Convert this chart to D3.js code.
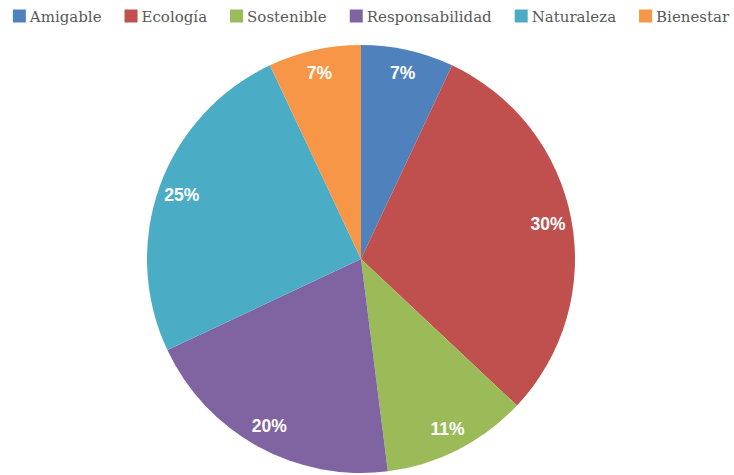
<!DOCTYPE html>
<html><head><meta charset="utf-8">
<script src="https://cdn.jsdelivr.net/npm/d3@7"></script>
<style>body{margin:0;background:#fff;}svg{display:block;}</style>
</head><body>
<svg id="chart" width="734" height="475"></svg>
<script>
const categories = ["Amigable","Ecología","Sostenible","Responsabilidad","Naturaleza","Bienestar"];
const values = [7,30,11,20,25,7];
const labels = ["7%","30%","11%","20%","25%","7%"];
const colors = ["#4F81BD","#C0504D","#9BBB59","#8064A2","#4BACC6","#F79646"];

const svg = d3.select("#chart");
const cx = 361, cy = 259, R = 214;

const data = categories.map((c,i)=>({cat:c, v:values[i], label:labels[i], color:colors[i]}));
const pie = d3.pie().value(d=>d.v).sort(null);
const arc = d3.arc().innerRadius(0).outerRadius(R);
const labelArc = d3.arc().innerRadius(R*0.89).outerRadius(R*0.89);

const g = svg.append("g").attr("transform",`translate(${cx},${cy})`);
const arcs = pie(data);
g.selectAll("path").data(arcs).join("path")
  .attr("d",arc).attr("fill",d=>d.data.color);

g.selectAll("text").data(arcs).join("text")
  .attr("transform",d=>`translate(${labelArc.centroid(d)})`)
  .attr("text-anchor","middle").attr("dy","0.36em")
  .attr("fill","#fff").attr("font-family","Liberation Sans, Arial, sans-serif")
  .attr("font-weight","bold").attr("font-size",17.5)
  .text(d=>d.data.label);

// legend
const lg = svg.append("g");
const items = lg.selectAll("g").data(data).join("g");
items.append("rect").attr("width",13).attr("height",13).attr("y",9.5).attr("fill",d=>d.color);
items.append("text").attr("x",17).attr("y",21.5)
  .attr("font-family","DejaVu Serif, serif").attr("font-size",15).attr("fill","#595959")
  .text(d=>d.cat);
let x = 0; const gap = 23;
items.each(function(){
  const t = d3.select(this).select("text").node().getComputedTextLength();
  d3.select(this).attr("transform",`translate(${x},0)`);
  x += 17 + t + gap;
});
const total = x - gap;
const startX = 12 + (718 - total)/2;
lg.attr("transform",`translate(${startX},0)`);
</script>
</body></html>
